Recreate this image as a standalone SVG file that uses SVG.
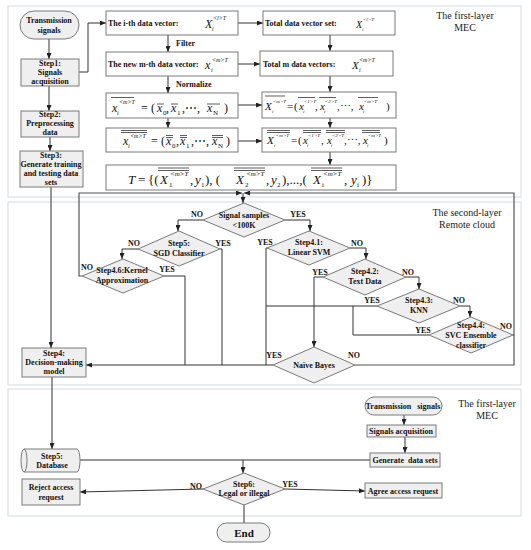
<svg xmlns="http://www.w3.org/2000/svg" width="531" height="550" viewBox="0 0 531 550">
<style>
.panel{fill:#fff;stroke:#dde2e6;stroke-width:1.2}
.box{fill:#efefef;stroke:#7a7a7a;stroke-width:1}
.mbox{fill:#fff;stroke:#7a7a7a;stroke-width:1}
.dia{fill:#efefef;stroke:#7a7a7a;stroke-width:1}
.ln{fill:none;stroke:#333;stroke-width:1}
.loop{fill:none;stroke:#555;stroke-width:1.2}
.t{font-family:"Liberation Serif",serif;font-weight:bold;font-size:8px;text-anchor:middle;fill:#111}
.ts{font-family:"Liberation Serif",serif;font-weight:bold;font-size:8px;fill:#111}
.lab{font-family:"Liberation Serif",serif;font-size:10px;text-anchor:middle;fill:#222}
.m{font-family:"Liberation Serif",serif;font-style:italic;font-size:12px;fill:#111}
.mr{font-family:"Liberation Serif",serif;font-size:12px;fill:#111}
.mt{font-family:"Liberation Serif",serif;font-style:italic;font-size:13px;fill:#111}
.mtr{font-family:"Liberation Serif",serif;font-size:13px;fill:#111}
.sp{font-family:"Liberation Serif",serif;font-style:italic;font-size:6px;fill:#111}
.sb{font-family:"Liberation Serif",serif;font-size:7px;fill:#111}
.ov{stroke:#333;stroke-width:0.8}
</style>
<defs>
<marker id="a" markerUnits="userSpaceOnUse" markerWidth="6" markerHeight="5" refX="6" refY="2.5" orient="auto"><path d="M0,0 L6,2.5 L0,5 z" fill="#222"/></marker>
</defs>
<g id="panels">
<rect class="panel" x="8" y="6" width="513" height="191"/>
<rect class="panel" x="8" y="202" width="513" height="183"/>
<rect class="panel" x="8" y="389" width="513" height="127"/>
<text class="lab" x="465" y="19">The first-layer</text>
<text class="lab" x="465" y="31">MEC</text>
<text class="lab" x="467" y="216">The second-layer</text>
<text class="lab" x="467" y="228">Remote cloud</text>
<text class="lab" x="487" y="407">The first-layer</text>
<text class="lab" x="487" y="419">MEC</text>
</g>
<g id="connectors">
<path class="ln" d="M49,39 V59" marker-end="url(#a)"/>
<path class="ln" d="M79,72 H88 V23 H106" marker-end="url(#a)"/>
<path class="ln" d="M49,86 V111" marker-end="url(#a)"/>
<path class="ln" d="M50,137 V151" marker-end="url(#a)"/>
<path class="ln" d="M51,187 V348" marker-end="url(#a)"/>
<path class="ln" d="M168,35 V52" marker-end="url(#a)"/>
<path class="ln" d="M168,76 V93" marker-end="url(#a)"/>
<path class="ln" d="M168,118 V128" marker-end="url(#a)"/>
<path class="ln" d="M238,23 H263" marker-end="url(#a)"/>
<path class="ln" d="M238,64 H260" marker-end="url(#a)"/>
<path class="ln" d="M238,105 H262" marker-end="url(#a)"/>
<path class="ln" d="M238,141 H262" marker-end="url(#a)"/>
<path class="ln" d="M330,35 V51" marker-end="url(#a)"/>
<path class="ln" d="M330,76 V92" marker-end="url(#a)"/>
<path class="ln" d="M330,118 V128" marker-end="url(#a)"/>
<path class="ln" d="M330,152 V165" marker-end="url(#a)"/>
<path class="loop" d="M355,365 H514 V193 H244" marker-end="url(#a)"/>
<path class="loop" d="M82,276 H79 V193 H242" marker-end="url(#a)"/>
<path class="ln" d="M243,193 V203" marker-end="url(#a)"/>
<path class="ln" d="M203,220 H178 V231" marker-end="url(#a)"/>
<path class="ln" d="M285,220 H310 V231" marker-end="url(#a)"/>
<path class="ln" d="M138,249 H122 V259" marker-end="url(#a)"/>
<path class="ln" d="M220,249 H222 V365"/>
<path class="ln" d="M164,276 H185 V365"/>
<path class="ln" d="M267,248 H266 V365"/>
<path class="ln" d="M273,365 H86" marker-end="url(#a)"/>
<path class="ln" d="M350,248 H366 V259" marker-end="url(#a)"/>
<path class="ln" d="M323,277 H314 V347" marker-end="url(#a)"/>
<path class="ln" d="M406,277 H419 V289" marker-end="url(#a)"/>
<path class="ln" d="M377,306 H266"/>
<path class="ln" d="M460,306 H470 V317" marker-end="url(#a)"/>
<path class="ln" d="M429,335 H353 V306"/>
<path class="ln" d="M513,335 H514"/>
<path class="ln" d="M404,415 V425" marker-end="url(#a)"/>
<path class="ln" d="M405,437 V453" marker-end="url(#a)"/>
<path class="ln" d="M370,460 H80"/>
<path class="ln" d="M243,460 V473" marker-end="url(#a)"/>
<path class="ln" d="M52,377 V449" marker-end="url(#a)"/>
<path class="ln" d="M203,489 L80,492" marker-end="url(#a)"/>
<path class="ln" d="M285,489 L365,491" marker-end="url(#a)"/>
<path class="ln" d="M244,505 V523"/>
<text class="ts" x="176" y="46">Filter</text>
<text class="ts" x="176" y="87">Normalize</text>
<text class="t" x="197" y="217">NO</text>
<text class="t" x="298" y="217">YES</text>
<text class="t" x="134" y="246">NO</text>
<text class="t" x="223" y="246">YES</text>
<text class="t" x="265" y="245">YES</text>
<text class="t" x="87" y="270">NO</text>
<text class="t" x="167" y="272">YES</text>
<text class="t" x="357" y="246">NO</text>
<text class="t" x="320" y="275">YES</text>
<text class="t" x="408" y="275">NO</text>
<text class="t" x="372" y="303">YES</text>
<text class="t" x="459" y="303">NO</text>
<text class="t" x="423" y="333">YES</text>
<text class="t" x="506" y="329">NO</text>
<text class="t" x="274" y="358">YES</text>
<text class="t" x="354" y="358">NO</text>
<text class="t" x="196" y="489">NO</text>
<text class="t" x="290" y="487">YES</text>
</g>
<g id="n-trans">
<rect class="box" x="20" y="11" width="59" height="28" rx="14"/>
<text class="t" x="49" y="23">Transmission</text>
<text class="t" x="49" y="33">signals</text>
</g>
<g id="n-step1">
<rect class="box" x="21" y="59" width="58" height="27"/>
<text class="t" x="50" y="66">Step1:</text>
<text class="t" x="50" y="75">Signals</text>
<text class="t" x="50" y="84">acquisition</text>
</g>
<g id="n-step2">
<rect class="box" x="21" y="111" width="58" height="26"/>
<text class="t" x="50" y="117">Step2:</text>
<text class="t" x="50" y="126">Preprocessing</text>
<text class="t" x="50" y="135">data</text>
</g>
<g id="n-step3">
<rect class="box" x="20" y="151" width="63" height="36"/>
<text class="t" x="51" y="158">Step3:</text>
<text class="t" x="51" y="167">Generate training</text>
<text class="t" x="51" y="176">and testing data</text>
<text class="t" x="51" y="185">sets</text>
</g>
<g id="n-step4">
<rect class="box" x="22" y="348" width="64" height="29"/>
<text class="t" x="54" y="356">Step4:</text>
<text class="t" x="54" y="365">Decision-making</text>
<text class="t" x="54" y="374">model</text>
</g>
<g id="n-db">
<path class="box" d="M24,449 H77 A3,11.5 0 0 1 77,472 H24 A3,11.5 0 0 1 24,449 Z"/>
<path class="ln" style="stroke:#7a7a7a" d="M24,449 A3,11.5 0 0 1 24,472"/>
<text class="t" x="52" y="459">Step5:</text>
<text class="t" x="52" y="468">Database</text>
</g>
<g id="n-reject">
<rect class="box" x="22" y="479" width="58" height="26"/>
<text class="t" x="51" y="490">Reject access</text>
<text class="t" x="51" y="500">request</text>
</g>
<g id="n-ith">
<rect class="mbox" x="106" y="11" width="132" height="24"/>
<text class="ts" x="108" y="26">The i-th data vector:</text>
<text class="m" x="205" y="28">X</text><text class="sp" x="212" y="31">i</text><text class="sp" x="213" y="20">&lt;l&gt;T</text>
</g>
<g id="n-mth">
<rect class="mbox" x="106" y="52" width="132" height="24"/>
<text class="ts" x="108" y="67">The new m-th data vector:</text>
<text class="m" x="205" y="69">x</text><text class="sp" x="211" y="72">i</text><text class="sp" x="212" y="62">&lt;m&gt;T</text>
</g>
<g id="n-norm1">
<rect class="mbox" x="106" y="93" width="132" height="25"/>
<text class="m" x="112" y="112">x</text><text class="sp" x="117" y="115">i</text><text class="sp" x="119" y="104">&lt;m&gt;T</text>
<line class="ov" x1="111" y1="97.5" x2="134" y2="97.5"/>
<text class="mr" x="141" y="112">=</text><text class="mr" x="151" y="112">(</text>
<text class="m" x="157" y="112">x</text><text class="sb" x="163" y="115">0</text><line class="ov" x1="157" y1="104" x2="164" y2="104"/>
<text class="mr" x="166" y="112">,</text>
<text class="m" x="171" y="112">x</text><text class="sb" x="177" y="115">1</text><line class="ov" x1="171" y1="104" x2="178" y2="104"/>
<text class="mr" x="182" y="112">,⋯,</text>
<text class="m" x="207" y="112">x</text><text class="sb" x="213" y="115">N</text><line class="ov" x1="207" y1="104" x2="220" y2="104"/>
<text class="mr" x="224" y="112">)</text>
</g>
<g id="n-norm2">
<rect class="mbox" x="106" y="128" width="132" height="24"/>
<text class="m" x="123" y="145">x</text><text class="sp" x="128" y="148">i</text><text class="sp" x="130" y="138">&lt;m&gt;T</text>
<line class="ov" x1="121" y1="130.5" x2="147" y2="130.5"/><line class="ov" x1="121" y1="132.5" x2="147" y2="132.5"/>
<text class="mr" x="151" y="145">=</text><text class="mr" x="161" y="145">(</text>
<text class="m" x="166" y="145">x</text><text class="sb" x="172" y="148">0</text>
<line class="ov" x1="166" y1="135.5" x2="173" y2="135.5"/><line class="ov" x1="166" y1="137.5" x2="173" y2="137.5"/>
<text class="mr" x="176" y="145">,</text>
<text class="m" x="180" y="145">x</text><text class="sb" x="186" y="148">1</text>
<line class="ov" x1="180" y1="135.5" x2="187" y2="135.5"/><line class="ov" x1="180" y1="137.5" x2="187" y2="137.5"/>
<text class="mr" x="191" y="145">,⋯,</text>
<text class="m" x="212" y="145">x</text><text class="sb" x="218" y="148">N</text>
<line class="ov" x1="212" y1="135.5" x2="223" y2="135.5"/><line class="ov" x1="212" y1="137.5" x2="223" y2="137.5"/>
<text class="mr" x="226" y="145">)</text>
</g>
<g id="n-total">
<rect class="mbox" x="263" y="11" width="132" height="24"/>
<text class="ts" x="265" y="26">Total data vector set:</text>
<text class="m" style="font-size:10px" x="356" y="28">X</text><text class="sp" style="font-size:5px" x="362" y="31">i</text><text class="sp" style="font-size:5px" x="363" y="21">&lt;l&gt;T</text>
</g>
<g id="n-totalm">
<rect class="mbox" x="260" y="51" width="133" height="25"/>
<text class="ts" x="263" y="67">Total m data vectors:</text>
<text class="m" style="font-size:11px" x="352" y="69">X</text><text class="sp" x="359" y="72">i</text><text class="sp" x="359" y="62">&lt;m&gt;T</text>
</g>
<g id="n-norm3">
<rect class="mbox" x="262" y="92" width="134" height="26"/>
<text class="m" style="font-size:11px" x="265" y="110">X</text><text class="sp" style="font-size:5px" x="272" y="113">i</text><text class="sp" style="font-size:5px" x="273" y="103">&lt;m&gt;T</text>
<line class="ov" x1="265" y1="96" x2="285" y2="96"/>
<text class="mr" style="font-size:11px" x="287" y="110">=</text><text class="mr" style="font-size:11px" x="294" y="110">(</text>
<text class="m" style="font-size:11px" x="299" y="110">x</text><text class="sp" style="font-size:5px" x="303" y="113">i</text><text class="sp" style="font-size:5px" x="304" y="103">&lt;1&gt;T</text>
<line class="ov" x1="298" y1="97.5" x2="315" y2="97.5"/>
<text class="mr" style="font-size:11px" x="315" y="110">,</text>
<text class="m" style="font-size:11px" x="320" y="110">x</text><text class="sp" style="font-size:5px" x="324" y="113">i</text><text class="sp" style="font-size:5px" x="325" y="103">&lt;2&gt;T</text>
<line class="ov" x1="319" y1="97.5" x2="336" y2="97.5"/>
<text class="mr" style="font-size:11px" x="337" y="110">,⋯,</text>
<text class="m" style="font-size:11px" x="359" y="110">x</text><text class="sp" style="font-size:5px" x="363" y="113">i</text><text class="sp" style="font-size:5px" x="364" y="103">&lt;m&gt;T</text>
<line class="ov" x1="358" y1="97.5" x2="378" y2="97.5"/>
<text class="mr" style="font-size:11px" x="386" y="110">)</text>
</g>
<g id="n-norm4">
<rect class="mbox" x="262" y="128" width="134" height="24"/>
<text class="m" style="font-size:11px" x="267" y="144">X</text><text class="sp" style="font-size:5px" x="274" y="147">i</text><text class="sp" style="font-size:5px" x="276" y="137">&lt;m&gt;T</text>
<line class="ov" x1="267" y1="130.5" x2="290" y2="130.5"/><line class="ov" x1="267" y1="132.5" x2="290" y2="132.5"/>
<text class="mr" style="font-size:11px" x="291" y="144">=</text><text class="mr" style="font-size:11px" x="298" y="144">(</text>
<text class="m" style="font-size:11px" x="303" y="144">x</text><text class="sp" style="font-size:5px" x="307" y="147">i</text><text class="sp" style="font-size:5px" x="308" y="137">&lt;1&gt;T</text>
<line class="ov" x1="303" y1="130.5" x2="321" y2="130.5"/><line class="ov" x1="303" y1="132.5" x2="321" y2="132.5"/>
<text class="mr" style="font-size:11px" x="321" y="144">,</text>
<text class="m" style="font-size:11px" x="327" y="144">x</text><text class="sp" style="font-size:5px" x="331" y="147">i</text><text class="sp" style="font-size:5px" x="332" y="137">&lt;2&gt;T</text>
<line class="ov" x1="326" y1="130.5" x2="345" y2="130.5"/><line class="ov" x1="326" y1="132.5" x2="345" y2="132.5"/>
<text class="mr" style="font-size:11px" x="344" y="144">,⋯,</text>
<text class="m" style="font-size:11px" x="363" y="144">x</text><text class="sp" style="font-size:5px" x="367" y="147">i</text><text class="sp" style="font-size:5px" x="368" y="137">&lt;m&gt;T</text>
<line class="ov" x1="362" y1="130.5" x2="380" y2="130.5"/><line class="ov" x1="362" y1="132.5" x2="380" y2="132.5"/>
<text class="mr" style="font-size:11px" x="384" y="144">)</text>
</g>
<g id="n-T">
<rect class="mbox" x="106" y="165" width="290" height="25"/>
<text class="mt" x="128" y="184">T</text>
<text class="mtr" x="138" y="184">=</text><text class="mtr" x="148" y="184">{(</text>
<text class="mt" x="160" y="184">X</text><text class="sb" x="169" y="187">1</text><text class="sp" style="font-size:7px" x="170" y="176">&lt;m&gt;T</text>
<line class="ov" x1="158" y1="168" x2="189" y2="168"/><line class="ov" x1="158" y1="170.5" x2="189" y2="170.5"/>
<text class="mtr" x="190" y="184">,</text><text class="mt" x="195" y="184">y</text><text class="sb" x="201" y="187">1</text>
<text class="mtr" x="205" y="184">), (</text>
<text class="mt" x="236" y="184">X</text><text class="sb" x="245" y="187">2</text><text class="sp" style="font-size:7px" x="246" y="176">&lt;m&gt;T</text>
<line class="ov" x1="234" y1="168" x2="265" y2="168"/><line class="ov" x1="234" y1="170.5" x2="265" y2="170.5"/>
<text class="mtr" x="266" y="184">,</text><text class="mt" x="271" y="184">y</text><text class="sb" x="277" y="187">2</text>
<text class="mtr" x="282" y="184">),...,(</text>
<text class="mt" x="313" y="184">X</text><text class="sb" x="322" y="187">i</text><text class="sp" style="font-size:7px" x="323" y="176">&lt;m&gt;T</text>
<line class="ov" x1="311" y1="168" x2="342" y2="168"/><line class="ov" x1="311" y1="170.5" x2="342" y2="170.5"/>
<text class="mtr" x="344" y="184">,</text><text class="mt" x="351" y="184">y</text><text class="sb" x="357" y="187">i</text>
<text class="mtr" x="362" y="184">)}</text>
</g>
<g id="n-signal">
<polygon class="dia" points="244,203 285,220 244,237 203,220"/>
<text class="t" x="244" y="218">Signal samples</text>
<text class="t" x="244" y="228">&lt;100K</text>
</g>
<g id="n-sgd">
<polygon class="dia" points="179,231 220,249 179,266 138,249"/>
<text class="t" x="179" y="246">Step5:</text>
<text class="t" x="179" y="256">SGD Classifier</text>
</g>
<g id="n-kernel">
<polygon class="dia" points="123,259 164,276 123,293 82,276"/>
<text class="t" x="122" y="273">Step4.6:Kernel</text>
<text class="t" x="122" y="283">Approximation</text>
</g>
<g id="n-svm">
<polygon class="dia" points="309,231 350,248 309,265 267,248"/>
<text class="t" x="309" y="245">Step4.1:</text>
<text class="t" x="309" y="255">Linear SVM</text>
</g>
<g id="n-text">
<polygon class="dia" points="365,259 406,277 365,295 323,277"/>
<text class="t" x="365" y="274">Step4.2:</text>
<text class="t" x="365" y="284">Text Data</text>
</g>
<g id="n-knn">
<polygon class="dia" points="419,289 460,306 419,323 377,306"/>
<text class="t" x="419" y="303">Step4.3:</text>
<text class="t" x="419" y="313">KNN</text>
</g>
<g id="n-svc">
<polygon class="dia" points="471,317 513,335 471,353 429,335"/>
<text class="t" x="471" y="328">Step4.4:</text>
<text class="t" x="471" y="338">SVC Ensemble</text>
<text class="t" x="471" y="348">classifier</text>
</g>
<g id="n-nb">
<polygon class="dia" points="314,347 355,365 314,383 273,365"/>
<text class="t" x="314" y="368">Naïve Bayes</text>
</g>
<g id="n-trans2">
<rect class="box" x="365" y="397" width="77" height="18" rx="9"/>
<text class="t" x="403" y="409" xml:space="preserve">Transmission   signals</text>
</g>
<g id="n-acq2">
<rect class="box" x="367" y="425" width="69" height="12"/>
<text class="t" x="401" y="434">Signals acquisition</text>
</g>
<g id="n-gen">
<rect class="box" x="370" y="453" width="70" height="14"/>
<text class="t" x="405" y="463" xml:space="preserve">Generate  data sets</text>
</g>
<g id="n-step6">
<polygon class="dia" points="244,473 285,489 244,505 203,489"/>
<text class="t" x="244" y="487">Step6:</text>
<text class="t" x="244" y="496">Legal or illegal</text>
</g>
<g id="n-agree">
<rect class="box" x="365" y="483" width="77" height="15"/>
<text class="t" x="403" y="494">Agree access request</text>
</g>
<g id="n-end">
<rect class="box" x="217" y="523" width="53" height="19" rx="9.5"/>
<text class="t" style="font-size:11px" x="244" y="537">End</text>
</g>
</svg>
